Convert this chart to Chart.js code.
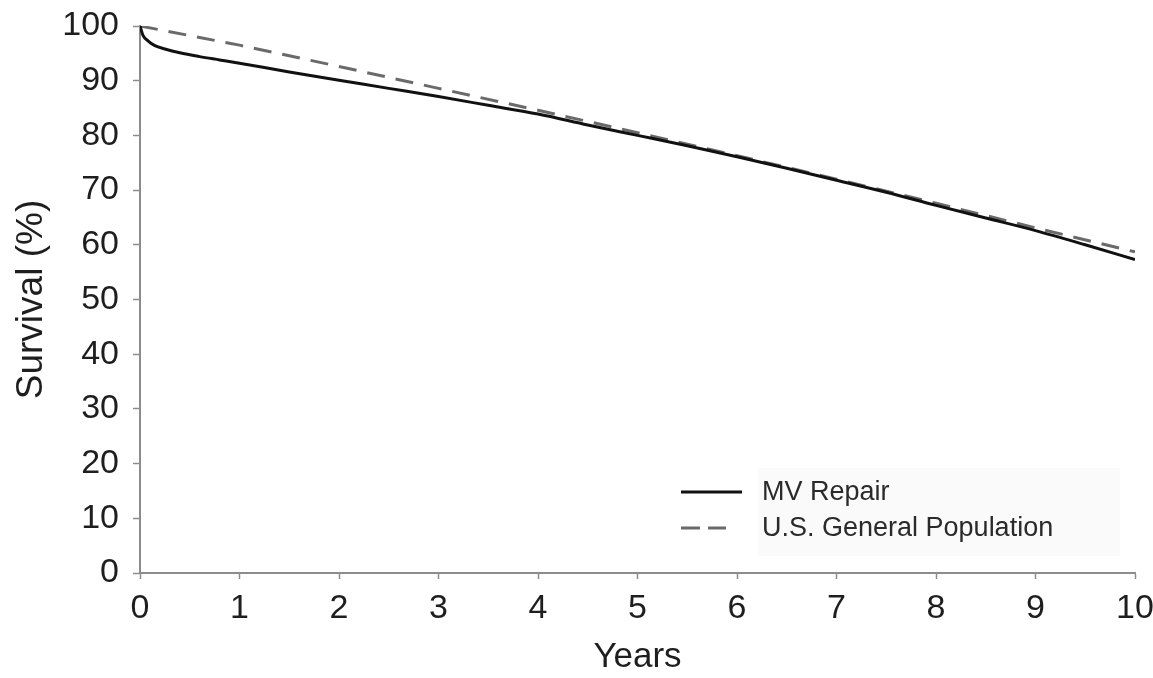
<!DOCTYPE html>
<html>
<head>
<meta charset="utf-8">
<title>Survival after MV repair</title>
<script src="https://cdn.jsdelivr.net/npm/chart.js@4.4.1/dist/chart.umd.min.js"></script>
<style>
  html, body { margin: 0; padding: 0; background: #ffffff; }
  #wrap { width: 1153px; height: 678px; position: relative; }
</style>
</head>
<body>
<div id="wrap"><canvas id="survivalChart" width="1153" height="678"></canvas></div>
<script>
// survival curves, years after surgery vs % alive
const repairYears = [0, 0.03, 0.08, 0.15, 0.25, 0.4, 0.6, 0.8, 1, 1.5, 2, 2.5, 3, 3.5, 4, 4.5, 5, 5.5, 6, 6.5, 7, 7.5, 8, 8.5, 9, 9.5, 10];
const repairSurvival = [100, 98.3, 97.3, 96.4, 95.8, 95.1, 94.4, 93.8, 93.2, 91.6, 90.1, 88.6, 87.1, 85.5, 83.9, 81.9, 80.0, 78.1, 76.1, 74.0, 71.8, 69.6, 67.2, 64.9, 62.6, 60.0, 57.3];

const popYears = [0, 1, 2, 3, 4, 5, 6, 7, 8, 9, 10];
const popSurvival = [100, 96.5, 92.6, 88.6, 84.6, 80.5, 76.3, 72.0, 67.6, 63.1, 58.7];

const xTicks = [0, 1, 2, 3, 4, 5, 6, 7, 8, 9, 10];
const yTicks = [0, 10, 20, 30, 40, 50, 60, 70, 80, 90, 100];

const seriesLabels = ['MV Repair', 'U.S. General Population'];

const toPoints = (xs, ys) => xs.map((x, i) => ({ x: x, y: ys[i] }));

const axisGray = '#8c8c8c';
const textColor = '#1e1e1e';
const fontFamily = "'Liberation Sans', Arial, Helvetica, sans-serif";

// legend drawn inside the plot, lower right
const insideLegend = {
    id: 'insideLegend',
    afterDraw(chart) {
        const ctx = chart.ctx;
        const area = chart.chartArea;
        ctx.save();
        ctx.fillStyle = '#fafafa';
        ctx.fillRect(area.left + 618, area.top + 442, 362, 88);
        const rows = [area.top + 466, area.top + 502];
        const sampleEnd = [602, 586];
        chart.data.datasets.forEach((ds, i) => {
            const y = rows[i];
            ctx.beginPath();
            ctx.strokeStyle = ds.borderColor;
            ctx.lineWidth = ds.borderWidth;
            ctx.setLineDash(ds.borderDash ? [19, 8] : []);
            ctx.moveTo(area.left + 541, y);
            ctx.lineTo(area.left + sampleEnd[i], y);
            ctx.stroke();
            ctx.setLineDash([]);
            ctx.fillStyle = '#2a2a2a';
            ctx.font = '27px ' + fontFamily;
            ctx.textBaseline = 'middle';
            ctx.textAlign = 'left';
            ctx.fillText(ds.label, area.left + 622, y + 1);
        });
        ctx.restore();
    }
};

const ctx = document.getElementById('survivalChart').getContext('2d');
const survivalChart = new Chart(ctx, {
    type: 'line',
    data: {
        datasets: [
            {
                label: seriesLabels[0],
                data: toPoints(repairYears, repairSurvival),
                borderColor: '#111111',
                borderWidth: 3,
                pointRadius: 0,
                cubicInterpolationMode: 'monotone'
            },
            {
                label: seriesLabels[1],
                data: toPoints(popYears, popSurvival),
                borderColor: '#6a6a6a',
                borderWidth: 3,
                borderDash: [18, 11],
                pointRadius: 0,
                tension: 0
            }
        ]
    },
    options: {
        responsive: false,
        animation: false,
        layout: { padding: { top: 26, right: 18, left: 0, bottom: 0 } },
        plugins: {
            legend: { display: false },
            tooltip: { enabled: false }
        },
        scales: {
            x: {
                type: 'linear',
                min: 0,
                max: 10,
                afterBuildTicks: s => { s.ticks = xTicks.map(v => ({ value: v })); },
                afterFit: s => { s.height = 105; s.paddingRight = 0; s.paddingLeft = 0; },
                border: { color: axisGray, width: 2 },
                grid: { drawOnChartArea: false, drawTicks: true, tickLength: 6, tickColor: axisGray, tickWidth: 1.5 },
                ticks: {
                    color: textColor,
                    font: { family: fontFamily, size: 34 },
                    padding: 9,
                    maxRotation: 0
                },
                title: {
                    display: true,
                    text: 'Years',
                    color: textColor,
                    font: { family: fontFamily, size: 35 },
                    padding: { top: 0, bottom: 0 }
                }
            },
            y: {
                min: 0,
                max: 100,
                afterBuildTicks: s => { s.ticks = yTicks.map(v => ({ value: v })); },
                afterFit: s => { s.width = 140; s.paddingTop = 0; s.paddingBottom = 0; },
                border: { color: axisGray, width: 2 },
                grid: { drawOnChartArea: false, drawTicks: true, tickLength: 7, tickColor: axisGray, tickWidth: 1.5 },
                ticks: {
                    color: textColor,
                    font: { family: fontFamily, size: 34 },
                    padding: 14
                },
                title: {
                    display: true,
                    text: 'Survival (%)',
                    color: textColor,
                    font: { family: fontFamily, size: 37 },
                    padding: { top: 10, bottom: 0 }
                }
            }
        }
    },
    plugins: [insideLegend]
});
</script>
</body>
</html>
